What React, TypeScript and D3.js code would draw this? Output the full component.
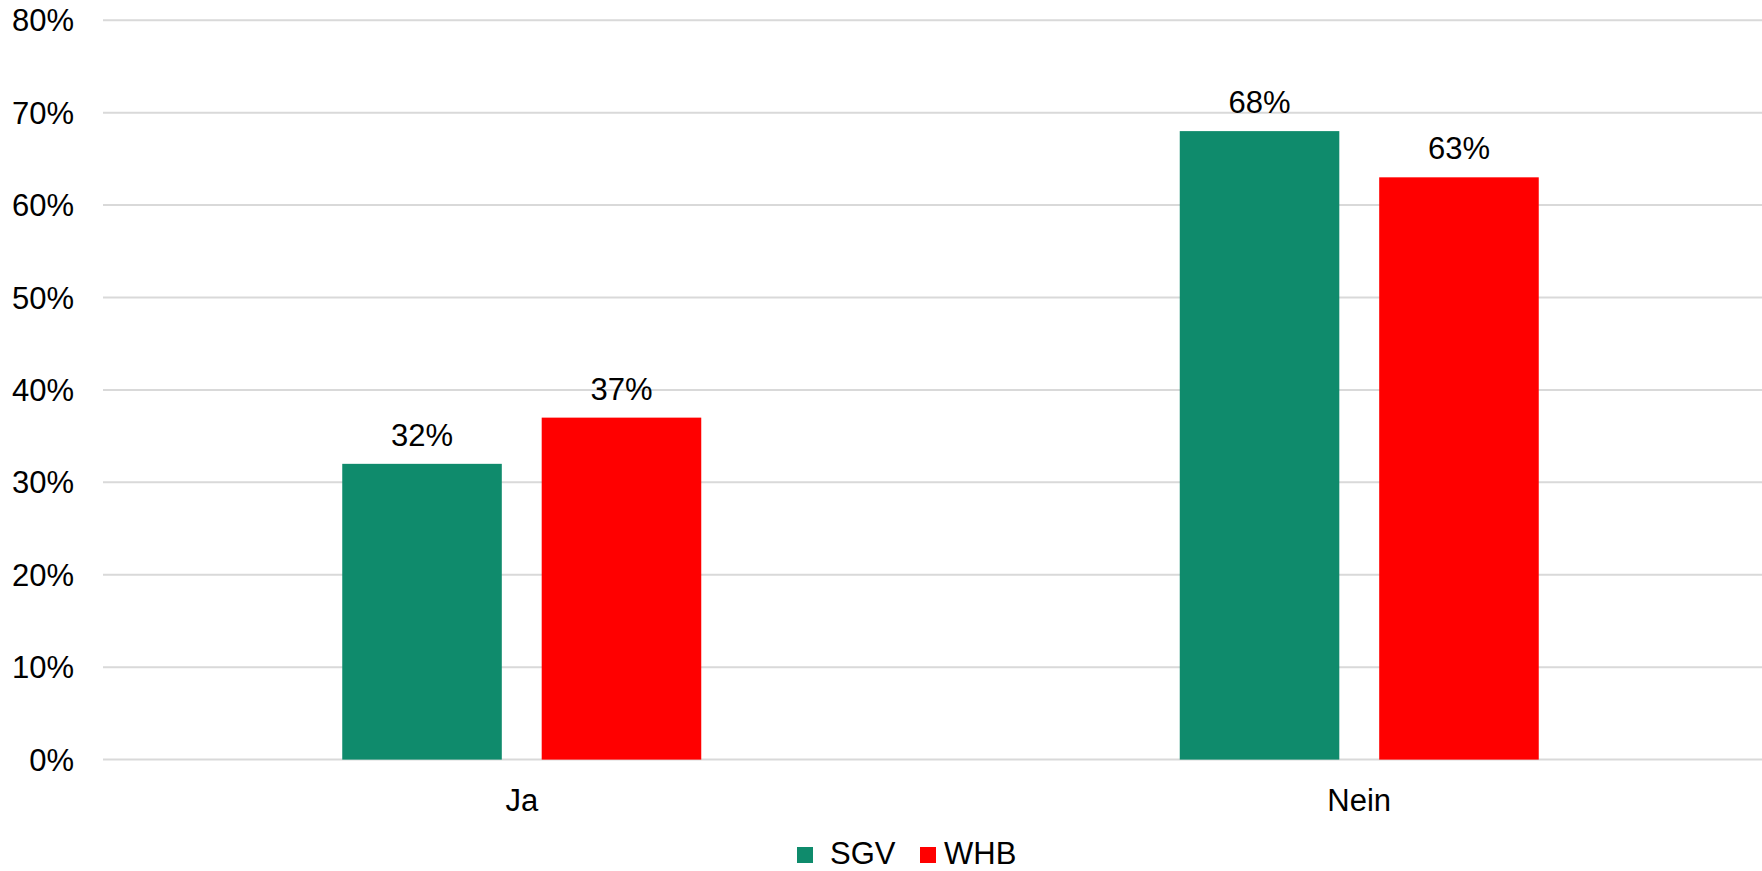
import React from 'react';
import * as d3 from 'd3';

const categories = ['Ja', 'Nein'];
const seriesNames = ['SGV', 'WHB'];
const sgvValues = [0.32, 0.68];
const whbValues = [0.37, 0.63];
const yTicks = [0, 0.1, 0.2, 0.3, 0.4, 0.5, 0.6, 0.7, 0.8];
const colors = ['#0f8b6c', '#ff0000'];

const W = 1762;
const H = 871;
const FONT = '"Liberation Sans", Arial, sans-serif';

const App: React.FC = () => {
  const x = d3.scaleBand<string>().domain(categories).range([103, 1778]);
  const groupW = 359;
  const xInner = d3.scaleBand<string>().domain(seriesNames).range([0, groupW]).paddingInner(0.2);
  const y = d3.scaleLinear().domain([0, 0.8]).range([759.6, 20.2]);
  const fmt = d3.format('.0%');
  const series = [sgvValues, whbValues];

  return (
    <svg width={W} height={H} style={{ position: 'absolute', left: 0, top: 0, display: 'block', background: '#fff' }}
      fontFamily={FONT}>
      {yTicks.map(t => (
        <g key={t}>
          <line x1={103} x2={W} y1={y(t)} y2={y(t)} stroke="#d9d9d9" strokeWidth={2} />
          <text x={74} y={y(t)} dy="0.36em" textAnchor="end" fontSize={31} fill="#000">{fmt(t)}</text>
        </g>
      ))}
      {categories.map((c, ci) => {
        const gx = (x(c) as number) + (x.bandwidth() - groupW) / 2;
        return (
          <g key={c}>
            {seriesNames.map((s, si) => {
              const v = series[si][ci];
              const bx = gx + (xInner(s) as number);
              return (
                <g key={s}>
                  <rect x={bx} y={y(v)} width={xInner.bandwidth()} height={y(0) - y(v)} fill={colors[si]} />
                  <text x={bx + xInner.bandwidth() / 2} y={y(v) - 18} textAnchor="middle" fontSize={31} fill="#000">
                    {fmt(v)}
                  </text>
                </g>
              );
            })}
            <text x={(x(c) as number) + x.bandwidth() / 2} y={811} textAnchor="middle" fontSize={31} fill="#000">{c}</text>
          </g>
        );
      })}
      <g>
        {seriesNames.map((s, i) => {
          const lx = [797, 920][i];
          return (
            <g key={s}>
              <rect x={lx} y={847} width={16} height={16} fill={colors[i]} />
              <text x={lx + (i === 0 ? 33 : 24)} y={864} fontSize={31} fill="#000">{s}</text>
            </g>
          );
        })}
      </g>
    </svg>
  );
};

export default App;
